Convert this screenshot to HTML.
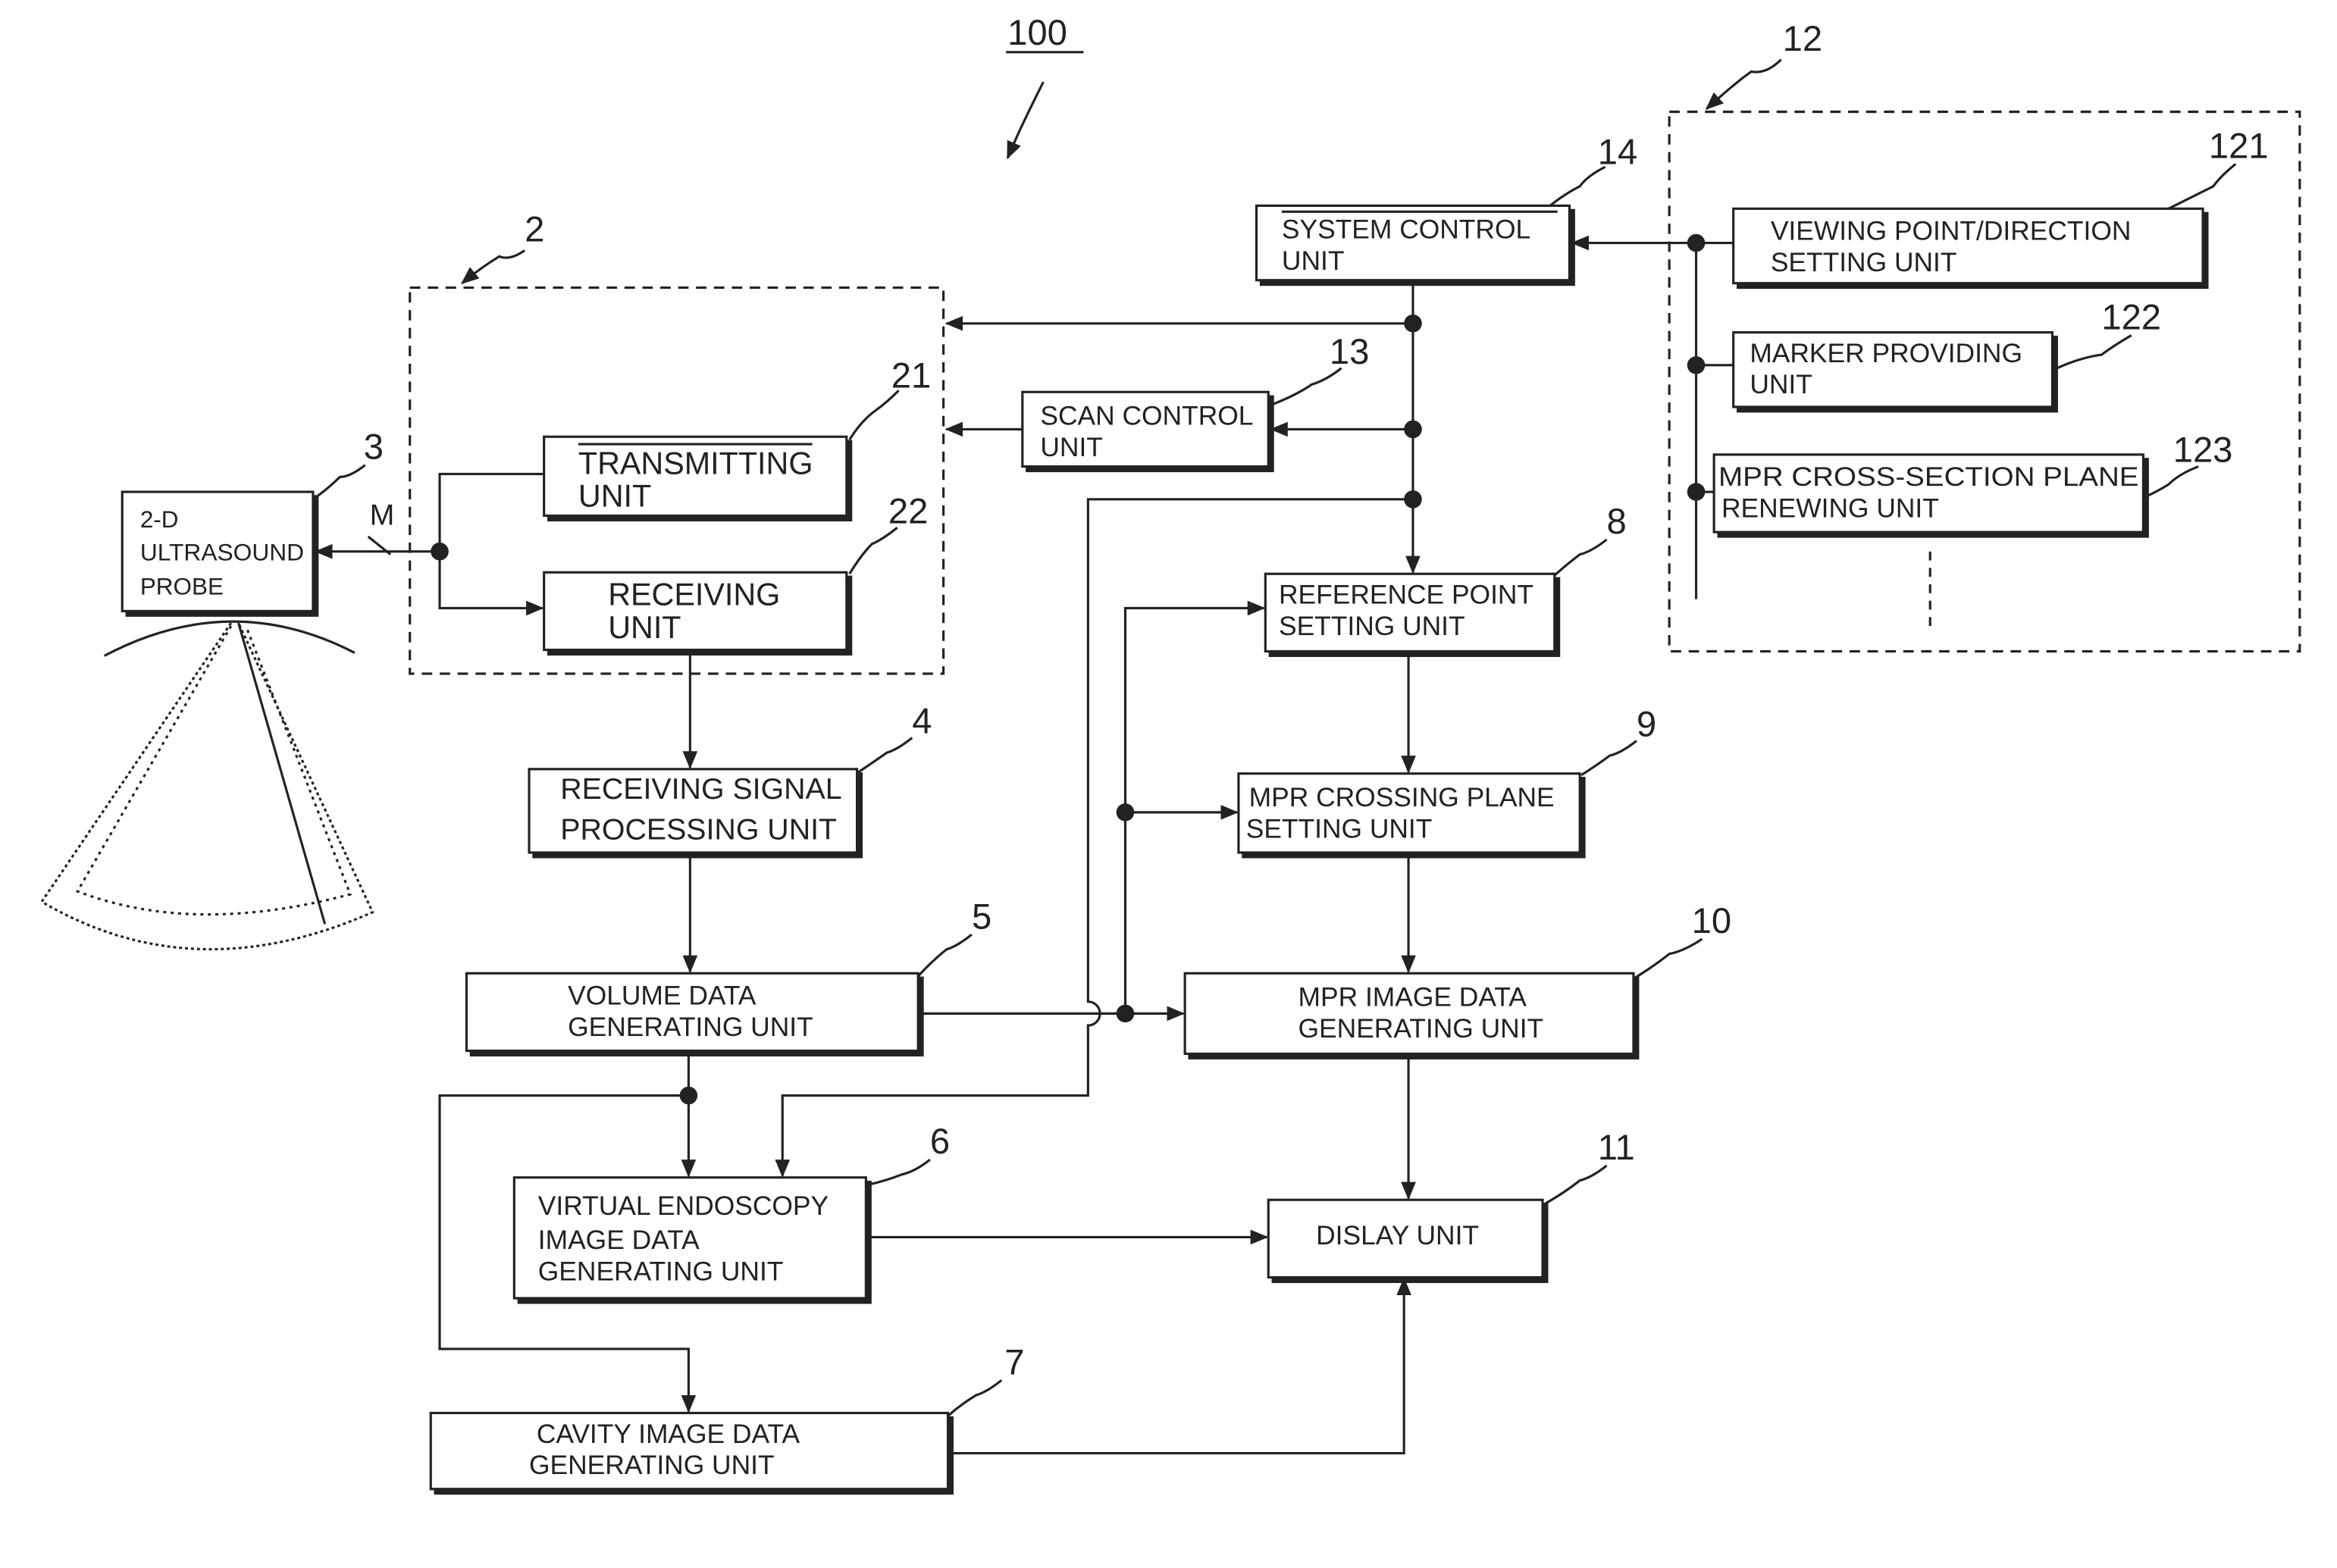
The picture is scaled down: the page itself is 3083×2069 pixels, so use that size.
<!DOCTYPE html>
<html><head><meta charset="utf-8"><style>
html,body{margin:0;padding:0;background:#fff;}
svg{display:block;}
text{font-family:"Liberation Sans",sans-serif;fill:#222;}
.t{font-size:18px;}
.n{font-size:24px;}
</style></head><body>
<svg width="3083" height="2069" viewBox="0 0 1568 1052" preserveAspectRatio="none" xmlns="http://www.w3.org/2000/svg">
<defs>
<marker id="a" markerWidth="12" markerHeight="10" refX="11" refY="5" orient="auto" markerUnits="userSpaceOnUse">
<path d="M0,0 L12,5 L0,10 z" fill="#222"/></marker>
</defs>
<g stroke="#222" stroke-width="1.6" fill="none">
<rect x="1120" y="75" width="423" height="362" stroke-dasharray="7,5"/>
<rect x="275" y="193" width="358" height="259" stroke-dasharray="7,5"/>
<line x1="1295" y1="370" x2="1295" y2="425" stroke-dasharray="6,5"/>
</g>
<g stroke="#222" stroke-width="1.6">
<rect x="846" y="141" width="210" height="50" fill="#222"/><rect x="843" y="138" width="210" height="50" fill="#fff"/>
<rect x="1166" y="143" width="315" height="50" fill="#222"/><rect x="1163" y="140" width="315" height="50" fill="#fff"/>
<rect x="1166" y="226" width="214" height="50" fill="#222"/><rect x="1163" y="223" width="214" height="50" fill="#fff"/>
<rect x="1153" y="308" width="288" height="52" fill="#222"/><rect x="1150" y="305" width="288" height="52" fill="#fff"/>
<rect x="368" y="296" width="203" height="53" fill="#222"/><rect x="365" y="293" width="203" height="53" fill="#fff"/>
<rect x="368" y="387" width="203" height="52" fill="#222"/><rect x="365" y="384" width="203" height="52" fill="#fff"/>
<rect x="689" y="266" width="165" height="50" fill="#222"/><rect x="686" y="263" width="165" height="50" fill="#fff"/>
<rect x="85" y="333" width="128" height="80" fill="#222"/><rect x="82" y="330" width="128" height="80" fill="#fff"/>
<rect x="852" y="388" width="194" height="52" fill="#222"/><rect x="849" y="385" width="194" height="52" fill="#fff"/>
<rect x="834" y="522" width="229" height="53" fill="#222"/><rect x="831" y="519" width="229" height="53" fill="#fff"/>
<rect x="798" y="656" width="301" height="54" fill="#222"/><rect x="795" y="653" width="301" height="54" fill="#fff"/>
<rect x="854" y="808" width="184" height="52" fill="#222"/><rect x="851" y="805" width="184" height="52" fill="#fff"/>
<rect x="358" y="519" width="220" height="56" fill="#222"/><rect x="355" y="516" width="220" height="56" fill="#fff"/>
<rect x="316" y="656" width="303" height="52" fill="#222"/><rect x="313" y="653" width="303" height="52" fill="#fff"/>
<rect x="348" y="793" width="236" height="81" fill="#222"/><rect x="345" y="790" width="236" height="81" fill="#fff"/>
<rect x="292" y="951" width="347" height="51" fill="#222"/><rect x="289" y="948" width="347" height="51" fill="#fff"/>
</g>
<g stroke="#222" stroke-width="1.6" fill="none">
<line x1="1163" y1="163" x2="1055" y2="163" marker-end="url(#a)"/>
<line x1="1138" y1="163" x2="1138" y2="402"/>
<line x1="1138" y1="245" x2="1163" y2="245"/>
<line x1="1138" y1="330" x2="1150" y2="330"/>
<line x1="948" y1="190" x2="948" y2="384" marker-end="url(#a)"/>
<line x1="948" y1="217" x2="635" y2="217" marker-end="url(#a)"/>
<line x1="948" y1="288" x2="853" y2="288" marker-end="url(#a)"/>
<line x1="686" y1="288" x2="635" y2="288" marker-end="url(#a)"/>
<path d="M948,335 H730 V672 A8,8 0 0 1 730,688 V735 H525 V789" marker-end="url(#a)"/>
<line x1="945" y1="437" x2="945" y2="518" marker-end="url(#a)"/>
<line x1="945" y1="574" x2="945" y2="652" marker-end="url(#a)"/>
<line x1="945" y1="709" x2="945" y2="804" marker-end="url(#a)"/>
<line x1="616" y1="680" x2="794" y2="680" marker-end="url(#a)"/>
<path d="M755,680 V408 H848" marker-end="url(#a)"/>
<line x1="755" y1="545" x2="830" y2="545" marker-end="url(#a)"/>
<line x1="462" y1="705" x2="462" y2="789" marker-end="url(#a)"/>
<path d="M462,735 H295 V905 H462 V947" marker-end="url(#a)"/>
<line x1="581" y1="830" x2="850" y2="830" marker-end="url(#a)"/>
<path d="M636,975 H942 V858" marker-end="url(#a)"/>
<line x1="463" y1="436" x2="463" y2="515" marker-end="url(#a)"/>
<line x1="463" y1="574" x2="463" y2="652" marker-end="url(#a)"/>
<line x1="295" y1="370" x2="212" y2="370" marker-end="url(#a)"/>
<path d="M365,318 H295 V408 H364" marker-end="url(#a)"/>
<path d="M70,440 Q155,395 238,438"/>
<path d="M155,418 L28,605 Q130,665 250,612 L160,418" stroke-dasharray="2,2"/>
<path d="M155,420 L52,598 Q130,628 235,600 L165,420" stroke-dasharray="2,3"/>
<line x1="160" y1="418" x2="218" y2="620"/>
<path d="M700,55 Q690,75 683,90 L676,106" marker-end="url(#a)"/>
<path d="M1195,40 Q1185,50 1175,48 Q1165,55 1145,73" marker-end="url(#a)"/>
<path d="M1077,112 Q1065,118 1060,125 Q1050,130 1040,138"/>
<path d="M1500,110 Q1490,118 1485,125 Q1475,130 1455,140"/>
<path d="M1430,225 Q1418,232 1410,238 Q1395,240 1378,248"/>
<path d="M1475,313 Q1462,318 1455,325 Q1447,330 1440,333"/>
<path d="M352,168 Q342,175 335,172 Q322,180 310,190" marker-end="url(#a)"/>
<path d="M603,262 Q595,270 588,275 Q578,282 570,295"/>
<path d="M602,354 Q592,362 585,365 Q578,372 570,385"/>
<path d="M245,312 Q235,320 228,320 Q220,328 210,335"/>
<path d="M900,247 Q890,255 880,258 Q870,265 852,272"/>
<path d="M1078,362 Q1068,370 1060,372 Q1052,378 1043,386"/>
<path d="M1098,497 Q1088,505 1080,507 Q1072,513 1061,520"/>
<path d="M1142,630 Q1130,638 1120,640 Q1110,648 1097,656"/>
<path d="M612,495 Q602,503 595,505 Q585,512 576,518"/>
<path d="M652,627 Q642,635 635,637 Q625,645 616,655"/>
<path d="M624,778 Q614,786 605,788 Q595,792 582,795"/>
<path d="M1078,782 Q1068,790 1060,792 Q1050,800 1036,808"/>
<path d="M672,926 Q662,934 655,936 Q645,942 636,950"/>
<line x1="247" y1="360" x2="262" y2="372"/>
<line x1="675" y1="35" x2="727" y2="35"/>
<line x1="860" y1="142" x2="1045" y2="142"/>
<line x1="388" y1="298" x2="545" y2="298"/>
</g>
<g fill="#222">
<circle cx="1138" cy="163" r="6"/><circle cx="1138" cy="245" r="6"/><circle cx="1138" cy="330" r="6"/>
<circle cx="948" cy="217" r="6"/><circle cx="948" cy="288" r="6"/><circle cx="948" cy="335" r="6"/>
<circle cx="755" cy="680" r="6"/><circle cx="755" cy="545" r="6"/>
<circle cx="462" cy="735" r="6"/><circle cx="295" cy="370" r="6"/>
</g>
<g class="t">
<text x="860" y="160">SYSTEM CONTROL</text><text x="860" y="181">UNIT</text>
<text x="1188" y="161">VIEWING POINT/DIRECTION</text><text x="1188" y="182">SETTING UNIT</text>
<text x="1174" y="243">MARKER PROVIDING</text><text x="1174" y="264">UNIT</text>
<text x="1153" y="326" textLength="282" lengthAdjust="spacingAndGlyphs">MPR CROSS-SECTION PLANE</text><text x="1155" y="347">RENEWING UNIT</text>
<text x="388" y="318" style="font-size:21px">TRANSMITTING</text><text x="388" y="340" style="font-size:21px">UNIT</text>
<text x="408" y="406" style="font-size:21px">RECEIVING</text><text x="408" y="428" style="font-size:21px">UNIT</text>
<text x="698" y="285">SCAN CONTROL</text><text x="698" y="306">UNIT</text>
<text x="94" y="354" style="font-size:16px">2-D</text><text x="94" y="376" style="font-size:16px" textLength="110" lengthAdjust="spacingAndGlyphs">ULTRASOUND</text><text x="94" y="399" style="font-size:16px">PROBE</text>
<text x="858" y="405">REFERENCE POINT</text><text x="858" y="426">SETTING UNIT</text>
<text x="838" y="541">MPR CROSSING PLANE</text><text x="836" y="562">SETTING UNIT</text>
<text x="871" y="675">MPR IMAGE DATA</text><text x="871" y="696">GENERATING UNIT</text>
<text x="883" y="835">DISLAY UNIT</text>
<text x="376" y="536" style="font-size:20px">RECEIVING SIGNAL</text><text x="376" y="563" style="font-size:20px">PROCESSING UNIT</text>
<text x="381" y="674">VOLUME DATA</text><text x="381" y="695">GENERATING UNIT</text>
<text x="361" y="815">VIRTUAL ENDOSCOPY</text><text x="361" y="838">IMAGE DATA</text><text x="361" y="859">GENERATING UNIT</text>
<text x="360" y="968">CAVITY IMAGE DATA</text><text x="355" y="989">GENERATING UNIT</text>
<text x="248" y="352" style="font-size:20px">M</text>
</g>
<g class="n">
<text x="676" y="30">100</text>
<text x="1196" y="34">12</text>
<text x="1072" y="110">14</text>
<text x="1482" y="106">121</text>
<text x="1410" y="221">122</text>
<text x="1458" y="310">123</text>
<text x="352" y="162">2</text>
<text x="598" y="260">21</text>
<text x="596" y="351">22</text>
<text x="244" y="308">3</text>
<text x="892" y="244">13</text>
<text x="1078" y="358">8</text>
<text x="1098" y="494">9</text>
<text x="1135" y="626">10</text>
<text x="612" y="492">4</text>
<text x="652" y="623">5</text>
<text x="624" y="774">6</text>
<text x="1072" y="778">11</text>
<text x="674" y="922">7</text>
</g>
</svg>
</body></html>
